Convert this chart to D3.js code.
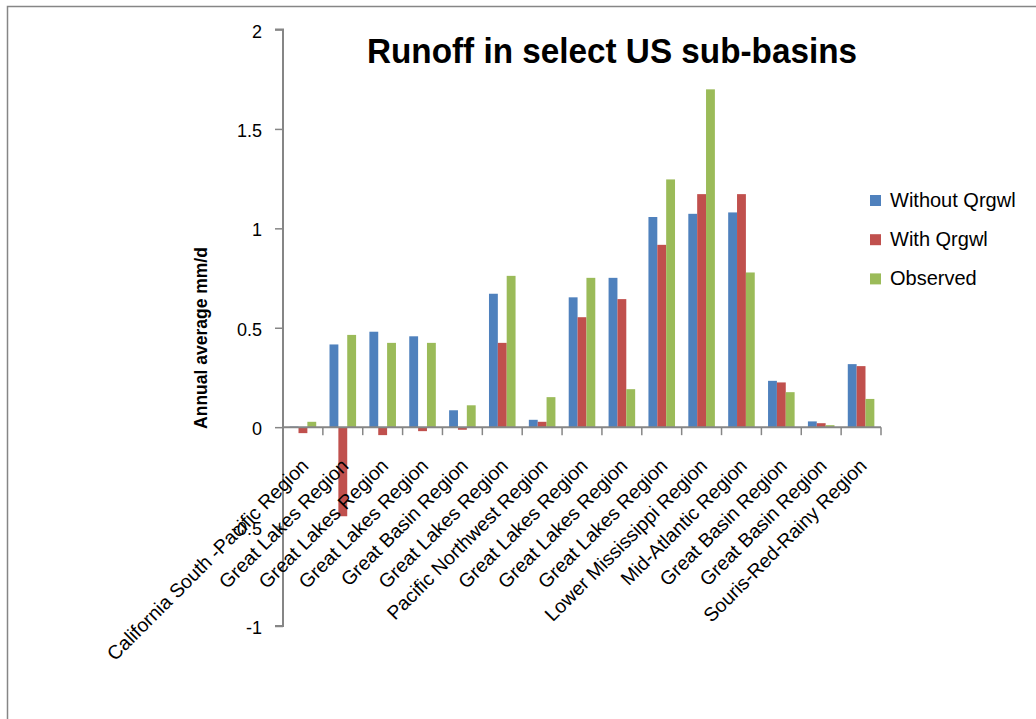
<!DOCTYPE html>
<html>
<head>
<meta charset="utf-8">
<script src="https://cdn.jsdelivr.net/npm/d3@7"></script>
<style>
  html, body { margin: 0; padding: 0; background: #fff; }
  svg { display: block; }
  text { font-family: "Liberation Sans", Arial, sans-serif; fill: #000; }
</style>
</head>
<body>
<svg id="chart" width="1036" height="719"></svg>
<script>
const categories = [
  "California South -Pacific Region",
  "Great Lakes Region",
  "Great Lakes Region",
  "Great Lakes Region",
  "Great Basin Region",
  "Great Lakes Region",
  "Pacific Northwest Region",
  "Great Lakes Region",
  "Great Lakes Region",
  "Great Lakes Region",
  "Lower Mississippi Region",
  "Mid-Atlantic Region",
  "Great Basin Region",
  "Great Basin Region",
  "Souris-Red-Rainy Region"
];
const seriesNames = ["Without Qrgwl", "With Qrgwl", "Observed"];
const withoutQrgwl = [0.003, 0.416, 0.48, 0.457, 0.085, 0.671, 0.037, 0.653, 0.751, 1.057, 1.073, 1.08, 0.233, 0.029, 0.317];
const withQrgwl    = [-0.03, -0.448, -0.04, -0.02, -0.013, 0.424, 0.027, 0.553, 0.644, 0.917, 1.172, 1.172, 0.225, 0.020, 0.307];
const observed     = [0.027, 0.464, 0.424, 0.424, 0.11, 0.761, 0.151, 0.751, 0.191, 1.246, 1.699, 0.778, 0.176, 0.010, 0.142];
const yTicks = [-1, -0.5, 0, 0.5, 1, 1.5, 2];
const colors = ["#4F81BD", "#C0504D", "#9BBB59"];

const seriesValues = [withoutQrgwl, withQrgwl, observed];
const rows = categories.map((c, i) => ({ idx: i, cat: c, values: seriesValues.map(s => s[i]) }));

const svg = d3.select("#chart");
const axisColor = "#868686";

// outer frame
svg.append("rect")
  .attr("x", 7.5).attr("y", 6.5)
  .attr("width", 1200).attr("height", 900)
  .attr("fill", "none").attr("stroke", axisColor).attr("stroke-width", 1.5);

const plotLeft = 283, plotRight = 881;
const y = d3.scaleLinear().domain([-1, 2]).range([626, 29.5]);
const x0 = d3.scaleBand().domain(d3.range(categories.length))
  .range([plotLeft, plotRight]).paddingInner(1/3).paddingOuter(1/6);
const x1 = d3.scaleBand().domain(d3.range(seriesNames.length)).range([0, x0.bandwidth()]).padding(0);

// bars
const g = svg.append("g");
const groups = g.selectAll("g.cat").data(rows).join("g")
  .attr("class", "cat")
  .attr("transform", d => `translate(${x0(d.idx)},0)`);
groups.selectAll("rect").data(d => d.values.map((v, k) => ({ v, k }))).join("rect")
  .attr("x", d => x1(d.k))
  .attr("width", x1.bandwidth())
  .attr("y", d => y(Math.max(0, d.v)))
  .attr("height", d => Math.abs(y(d.v) - y(0)))
  .attr("fill", d => colors[d.k]);

// y axis
const yAxis = d3.axisLeft(y).tickValues(yTicks).tickSize(8).tickPadding(13)
  .tickFormat(d => String(d).replace("\u2212", "-"));
const yg = svg.append("g").attr("transform", `translate(${plotLeft},0)`).call(yAxis);
yg.select(".domain").attr("stroke", axisColor).attr("stroke-width", 2).attr("d", `M-8,${y(2)}H0V${y(-1)}H-8`);
yg.selectAll(".tick line").attr("stroke", axisColor).attr("stroke-width", 1.5);
yg.selectAll(".tick text").attr("font-size", 18).attr("font-family", "Liberation Sans, Arial, sans-serif")
  .attr("dy", "0.42em").attr("fill", "#000");

// x axis at zero
const xg = svg.append("g").attr("transform", `translate(0,${y(0)})`);
xg.append("line").attr("x1", plotLeft).attr("x2", plotRight).attr("y1", 0).attr("y2", 0)
  .attr("stroke", axisColor).attr("stroke-width", 2);
const boundaries = d3.range(categories.length + 1).map(i => plotLeft + i * x0.step());
xg.selectAll("line.tk").data(boundaries).join("line").attr("class", "tk")
  .attr("x1", d => d).attr("x2", d => d).attr("y1", 0).attr("y2", 8)
  .attr("stroke", axisColor).attr("stroke-width", 1.5);
xg.selectAll("text.cl").data(rows).join("text").attr("class", "cl")
  .attr("transform", d => `translate(${x0(d.idx) + x0.bandwidth() / 2 + 2},${35}) rotate(-45)`)
  .attr("text-anchor", "end").attr("dy", "0.35em")
  .attr("font-size", 19.5)
  .text(d => d.cat);

// y axis title
svg.append("text")
  .attr("transform", `translate(207,${338}) rotate(-90)`)
  .attr("text-anchor", "middle")
  .attr("font-size", 17.5).attr("font-weight", "bold")
  .text("Annual average mm/d");

// title
svg.append("text")
  .attr("x", 367).attr("y", 63)
  .attr("font-size", 35).attr("font-weight", "bold")
  .attr("textLength", 490).attr("lengthAdjust", "spacingAndGlyphs")
  .text("Runoff in select US sub-basins");

// legend
const lg = svg.append("g").attr("transform", "translate(870,195)");
const li = lg.selectAll("g").data(seriesNames).join("g")
  .attr("transform", (d, i) => `translate(0,${i * 39.2})`);
li.append("rect").attr("width", 11).attr("height", 11).attr("fill", (d, i) => colors[i]);
li.append("text").attr("x", 20).attr("y", 12).attr("font-size", 20).text(d => d);
</script>
</body>
</html>
